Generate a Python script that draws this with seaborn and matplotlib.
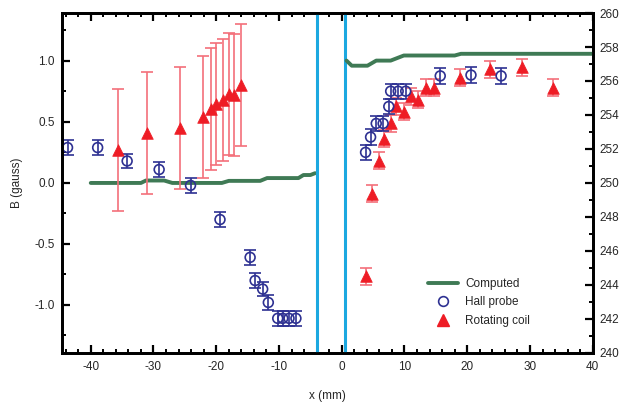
import numpy as np
import pandas as pd
import matplotlib
matplotlib.use("Agg")
import matplotlib.pyplot as plt
from matplotlib.ticker import MultipleLocator
from matplotlib.lines import Line2D
import seaborn as sns

sns.set_theme(style="white")
plt.rcParams['font.family'] = ['Liberation Sans', 'DejaVu Sans']

# ---------------- data (left axis, x < 0) ----------------
hall_left_x = [-43.7, -38.9, -34.2, -29.1, -24.1, -19.4, -14.6, -13.8, -12.6, -11.7, -10.2, -9.4, -8.4, -7.3]
hall_left_y = [0.29, 0.29, 0.18, 0.11, -0.02, -0.30, -0.61, -0.80, -0.87, -0.98, -1.11, -1.11, -1.11, -1.11]
hall_left_err = 0.06

coil_left_x = [-35.7, -31.1, -25.8, -22.1, -20.8, -20.0, -18.9, -17.9, -17.1, -16.0]
coil_left_y = [0.27, 0.41, 0.45, 0.54, 0.61, 0.65, 0.68, 0.73, 0.72, 0.80]
coil_left_err = 0.5

comp_left_x = [-40, -32, -31.2, -28.3, -27, -19.1, -18, -13, -11.9, -6.9, -6.1, -5.0, -4.25]
comp_left_y = [0.0, 0.0, 0.02, 0.02, 0.0, 0.0, 0.017, 0.017, 0.04, 0.04, 0.065, 0.065, 0.08]

# ---------------- data (right axis, x > 0) ----------------
hall_right_x = [3.8, 4.6, 5.5, 6.6, 7.5, 7.8, 9.0, 10.2, 15.7, 20.6, 25.4]
hall_right_y = [251.8, 252.7, 253.5, 253.5, 254.5, 255.4, 255.4, 255.4, 256.3, 256.35, 256.3]
hall_right_err = 0.45

coil_right_x = [3.9, 4.8, 6.0, 6.7, 7.9, 8.7, 10.0, 11.0, 12.1, 13.4, 14.7, 18.8, 23.6, 28.7, 33.7]
coil_right_y = [244.5, 249.35, 251.3, 252.6, 253.5, 254.5, 254.2, 255.1, 254.9, 255.6, 255.6, 256.2, 256.7, 256.8, 255.6]
coil_right_err = 0.5

comp_right_x = [0.76, 1.6, 4.1, 5.5, 7.8, 9.9, 18.0, 19.0, 40.0]
comp_right_y = [257.2, 256.9, 256.9, 257.2, 257.2, 257.5, 257.5, 257.6, 257.6]

boundaries = [-4.0, 0.6]

x_ticks = [-40, -30, -20, -10, 0, 10, 20, 30, 40]
left_ticks = [-1.0, -0.5, 0.0, 0.5, 1.0]
right_ticks = [240, 242, 244, 246, 248, 250, 252, 254, 256, 258, 260]

# ---------------- styling ----------------
GREEN = '#3f7a55'
BLUE = '#2e3192'
RED = '#ee1c25'
PINK = '#f3707a'
CYAN = '#1ca8e0'

fig = plt.figure(figsize=(6.38, 4.07), dpi=100)
ax = fig.add_axes([0.097, 0.133, 0.832, 0.835])
ax2 = ax.twinx()

# computed lines
sns.lineplot(x=comp_left_x, y=comp_left_y, ax=ax, color=GREEN, lw=2.8,
             sort=False, estimator=None)
sns.lineplot(x=comp_right_x, y=comp_right_y, ax=ax2, color=GREEN, lw=2.8,
             sort=False, estimator=None)

# error bars
ax.errorbar(coil_left_x, coil_left_y, yerr=coil_left_err, fmt='none', ecolor=PINK,
            elinewidth=1.2, capsize=4, capthick=1.2, zorder=2)
ax.errorbar(hall_left_x, hall_left_y, yerr=hall_left_err, fmt='none', ecolor=BLUE,
            elinewidth=1.2, capsize=4, capthick=1.2, zorder=2)
ax2.errorbar(coil_right_x, coil_right_y, yerr=coil_right_err, fmt='none', ecolor=PINK,
             elinewidth=1.2, capsize=4, capthick=1.2, zorder=2)
ax2.errorbar(hall_right_x, hall_right_y, yerr=hall_right_err, fmt='none', ecolor=BLUE,
             elinewidth=1.2, capsize=4, capthick=1.2, zorder=2)

# markers
sns.scatterplot(x=coil_left_x, y=coil_left_y, ax=ax, marker='^', s=70, color=RED,
                edgecolor=RED, linewidth=0.5, zorder=3)
sns.scatterplot(x=hall_left_x, y=hall_left_y, ax=ax, marker='o', s=50, facecolor='none',
                edgecolor=BLUE, linewidth=1.2, zorder=3)
sns.scatterplot(x=coil_right_x, y=coil_right_y, ax=ax2, marker='^', s=70, color=RED,
                edgecolor=RED, linewidth=0.5, zorder=3)
sns.scatterplot(x=hall_right_x, y=hall_right_y, ax=ax2, marker='o', s=50, facecolor='none',
                edgecolor=BLUE, linewidth=1.2, zorder=3)

for b in boundaries:
    ax.axvline(b, color=CYAN, lw=2.2, zorder=4)

ax.set_xlim(-44.6, 40)
ax.set_ylim(-1.393, 1.393)
ax2.set_ylim(240, 260)

ax.set_xticks(x_ticks)
ax.set_xticklabels([str(t) for t in x_ticks])
ax.set_yticks(left_ticks)
ax.set_yticklabels([f"{t:.1f}" for t in left_ticks])
ax2.set_yticks(right_ticks)
ax2.set_yticklabels([str(t) for t in right_ticks])
ax.xaxis.set_minor_locator(MultipleLocator(2))
ax.yaxis.set_minor_locator(MultipleLocator(0.25))
ax2.yaxis.set_minor_locator(MultipleLocator(1))

ax.tick_params(axis='x', which='both', direction='in', top=True, bottom=True,
               labelsize=8.5, color='black', pad=6)
ax.tick_params(axis='y', which='both', direction='in', left=True, right=False,
               labelsize=8.5, color='black', pad=5)
ax.tick_params(which='major', length=6, width=1.6)
ax.tick_params(which='minor', length=3, width=1.4)
ax2.tick_params(axis='y', which='both', direction='in', right=True, left=False,
                labelsize=8.5, color='black', pad=5)
ax2.tick_params(which='major', length=6, width=1.6)
ax2.tick_params(which='minor', length=3, width=1.4)

for a in (ax, ax2):
    for s in a.spines.values():
        s.set_linewidth(2.0)
        s.set_color('black')

ax.set_xlabel('x (mm)', fontsize=8.5, labelpad=12)
ax.set_ylabel('B (gauss)', fontsize=8.5, labelpad=8)
ax2.set_ylabel('')

handles = [
    Line2D([], [], color=GREEN, lw=2.8),
    Line2D([], [], color=BLUE, marker='o', markerfacecolor='none', markersize=7,
           markeredgewidth=1.2, linestyle='none'),
    Line2D([], [], color=RED, marker='^', markersize=8, linestyle='none'),
]
ax2.legend(handles, ['Computed', 'Hall probe', 'Rotating coil'], loc='upper left',
           bbox_to_anchor=(0.68, 0.235), frameon=False, fontsize=8.5,
           handlelength=2.6, handletextpad=0.6, labelspacing=0.55, borderaxespad=0)

fig.savefig('out.png', dpi=100)
